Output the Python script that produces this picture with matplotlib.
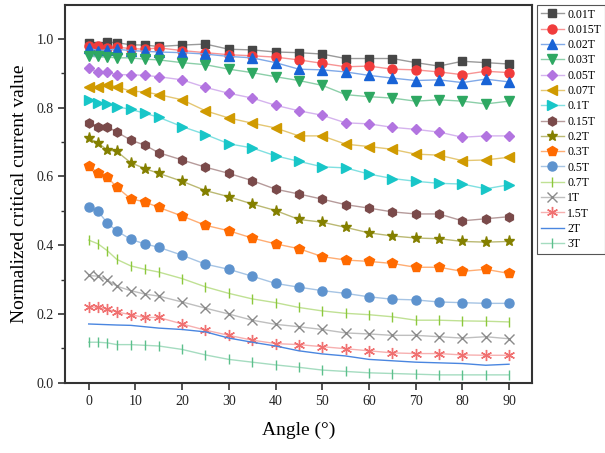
import matplotlib
matplotlib.use('Agg')
import matplotlib.pyplot as plt
from matplotlib.colors import to_rgb

plt.rcParams['font.family'] = ['Liberation Serif', 'DejaVu Serif']

angles = [0, 2, 4, 6, 9, 12, 15, 20, 25, 30, 35, 40, 45, 50, 55, 60, 65, 70, 75, 80, 85, 90]

labels = ['0.01T', '0.015T', '0.02T', '0.03T', '0.05T', '0.07T', '0.1T', '0.15T',
          '0.2T', '0.3T', '0.5T', '0.7T', '1T', '1.5T', '2T', '3T']

ic_001 = [0.987, 0.980, 0.991, 0.989, 0.983, 0.982, 0.978, 0.982, 0.985, 0.970, 0.968,
          0.962, 0.960, 0.956, 0.943, 0.943, 0.943, 0.931, 0.921, 0.935, 0.931, 0.927]
ic_0015 = [0.978, 0.978, 0.974, 0.976, 0.972, 0.970, 0.974, 0.966, 0.960, 0.954, 0.951,
           0.947, 0.939, 0.929, 0.919, 0.921, 0.912, 0.910, 0.904, 0.896, 0.906, 0.902]
ic_002 = [0.973, 0.966, 0.968, 0.970, 0.966, 0.964, 0.962, 0.960, 0.956, 0.949, 0.945,
          0.931, 0.912, 0.910, 0.904, 0.894, 0.886, 0.879, 0.881, 0.873, 0.883, 0.875]
ic_003 = [0.951, 0.949, 0.947, 0.945, 0.945, 0.941, 0.939, 0.931, 0.925, 0.912, 0.902,
          0.890, 0.879, 0.865, 0.838, 0.832, 0.828, 0.819, 0.823, 0.819, 0.811, 0.819]
ic_005 = [0.914, 0.904, 0.904, 0.896, 0.896, 0.894, 0.890, 0.881, 0.859, 0.842, 0.828,
          0.807, 0.791, 0.778, 0.756, 0.753, 0.743, 0.737, 0.729, 0.714, 0.718, 0.718]
ic_007 = [0.861, 0.859, 0.867, 0.861, 0.848, 0.846, 0.838, 0.823, 0.791, 0.770, 0.755,
          0.741, 0.718, 0.718, 0.694, 0.687, 0.679, 0.665, 0.662, 0.646, 0.648, 0.656]
ic_01 = [0.823, 0.815, 0.811, 0.803, 0.795, 0.784, 0.772, 0.745, 0.722, 0.695, 0.683,
         0.660, 0.644, 0.628, 0.625, 0.607, 0.594, 0.586, 0.580, 0.578, 0.564, 0.576]
ic_015 = [0.756, 0.745, 0.745, 0.729, 0.706, 0.691, 0.669, 0.648, 0.627, 0.609, 0.588,
          0.563, 0.549, 0.534, 0.518, 0.508, 0.497, 0.491, 0.491, 0.471, 0.477, 0.483]
ic_02 = [0.712, 0.697, 0.677, 0.673, 0.640, 0.623, 0.609, 0.586, 0.559, 0.541, 0.520,
         0.501, 0.475, 0.467, 0.452, 0.436, 0.427, 0.421, 0.419, 0.411, 0.409, 0.411]
ic_03 = [0.630, 0.611, 0.598, 0.569, 0.535, 0.526, 0.510, 0.485, 0.458, 0.442, 0.421,
         0.404, 0.390, 0.367, 0.357, 0.353, 0.347, 0.336, 0.336, 0.324, 0.330, 0.318]
ic_05 = [0.512, 0.499, 0.464, 0.442, 0.417, 0.404, 0.394, 0.371, 0.345, 0.330, 0.310,
         0.289, 0.278, 0.268, 0.260, 0.250, 0.243, 0.241, 0.235, 0.233, 0.231, 0.231]
ic_07 = [0.415, 0.404, 0.384, 0.359, 0.340, 0.330, 0.322, 0.303, 0.279, 0.260, 0.244,
         0.233, 0.219, 0.209, 0.202, 0.198, 0.192, 0.182, 0.182, 0.180, 0.179, 0.177]
ic_1 = [0.312, 0.310, 0.299, 0.281, 0.268, 0.258, 0.252, 0.235, 0.217, 0.200, 0.182,
        0.170, 0.163, 0.155, 0.145, 0.142, 0.138, 0.138, 0.134, 0.130, 0.134, 0.128]
ic_15 = [0.221, 0.219, 0.214, 0.206, 0.198, 0.190, 0.190, 0.171, 0.153, 0.138, 0.124,
         0.114, 0.111, 0.105, 0.099, 0.093, 0.087, 0.085, 0.085, 0.081, 0.080, 0.080]
ic_2 = [0.171, 0.170, 0.169, 0.168, 0.167, 0.163, 0.159, 0.155, 0.148, 0.130, 0.118,
        0.107, 0.093, 0.084, 0.078, 0.068, 0.064, 0.060, 0.058, 0.056, 0.051, 0.054]
ic_3 = [0.118, 0.118, 0.116, 0.111, 0.111, 0.109, 0.107, 0.097, 0.081, 0.068, 0.060,
        0.052, 0.045, 0.037, 0.033, 0.029, 0.027, 0.025, 0.023, 0.023, 0.023, 0.023]

series = [ic_001, ic_0015, ic_002, ic_003, ic_005, ic_007, ic_01, ic_015,
          ic_02, ic_03, ic_05, ic_07, ic_1, ic_15, ic_2, ic_3]

colors = ['#474747', '#F03C3C', '#1863D6', '#2EA862', '#B274E0', '#D09A00', '#18C6C8', '#7A4A4A',
          '#848000', '#FF6A00', '#5E93CE', '#8CC83C', '#8A8A8A', '#F07070', '#4A86E0', '#5CC08C']
markers = ['s', 'o', '^', 'v', 'D', '<', '>', 'h', '*', 'p', 'o', '|', 'x', (6, 2, 0), None, '|']
sizes = [6, 6.5, 7, 7, 5.5, 7, 7, 6.5, 8, 7, 6.5, 7, 7, 8, 0, 7]


def lighten(c, f=0.45):
    r, g, b = to_rgb(c)
    return (r + (1 - r) * f, g + (1 - g) * f, b + (1 - b) * f)


fig = plt.figure(figsize=(6.05, 4.53), dpi=100)
ax = fig.add_axes([0.108, 0.155, 0.772, 0.835])

for y, lab, c, m, s in zip(series, labels, colors, markers, sizes):
    if m is None:
        ax.plot(angles, y, color=c, lw=1.0, label=lab)
    else:
        ax.plot(angles, y, color=lighten(c), lw=1.0, marker=m, markersize=s,
                markerfacecolor=c, markeredgecolor=c, markeredgewidth=1.0, label=lab)

ax.set_xlim(-5, 95)
ax.set_ylim(0, 1.1)
ax.set_xticks(range(0, 91, 10))
ax.set_yticks([0.0, 0.2, 0.4, 0.6, 0.8, 1.0])
ax.set_yticklabels(['0.0', '0.2', '0.4', '0.6', '0.8', '1.0'])
ax.set_yticks([0.1, 0.3, 0.5, 0.7, 0.9], minor=True)
ax.tick_params(axis='both', which='major', direction='out', length=5, width=1.2,
               labelsize=10, colors='#333333', labelcolor='#222222')
ax.tick_params(axis='y', which='minor', direction='out', length=3, width=1.0, colors='#333333')
for sp in ax.spines.values():
    sp.set_linewidth(1.5)
    sp.set_color('#333333')

ax.set_xlabel('Angle (°)', fontsize=14, labelpad=10)
ax.set_ylabel('Normalized critical current value', fontsize=14, labelpad=6)

leg = ax.legend(loc='upper left', bbox_to_anchor=(537 / 605, 1 - 5 / 453),
                bbox_transform=fig.transFigure, borderaxespad=0, fontsize=8.5,
                frameon=True, fancybox=False, edgecolor='#555555', framealpha=1,
                handlelength=2.0, handletextpad=0.25, labelspacing=0.28, borderpad=0.3)
leg.get_frame().set_linewidth(0.8)

fig.savefig('out.png', dpi=100)
